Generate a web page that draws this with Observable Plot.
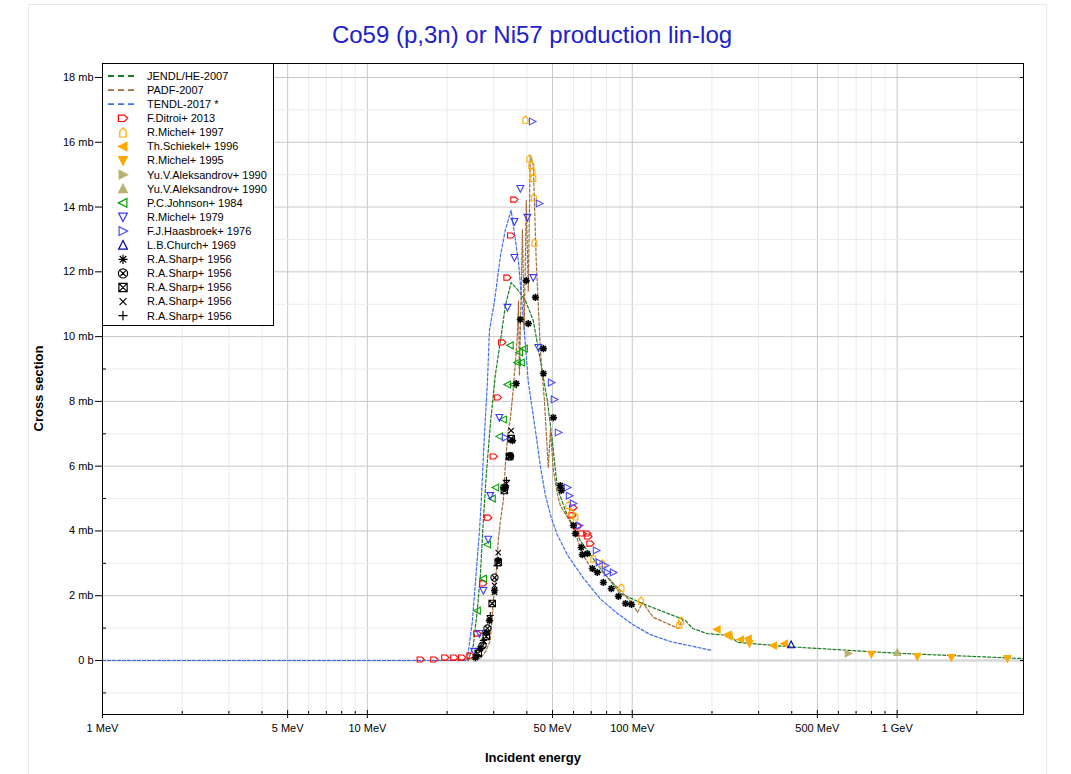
<!DOCTYPE html>
<html><head><meta charset="utf-8">
<script src="https://cdn.jsdelivr.net/npm/d3@7"></script>
<script src="https://cdn.jsdelivr.net/npm/@observablehq/plot@0.6"></script>
<style>
body{margin:0;background:#fff;font-family:"Liberation Sans",Arial,sans-serif;}
#wrap{position:relative;width:1071px;height:774px;overflow:hidden;}
#border{position:absolute;left:28px;top:4px;width:1017px;height:800px;border:1px solid #e8e8e8;}
#title{position:absolute;left:0;width:1064px;top:21px;text-align:center;font-size:24px;color:#2020cc;}
#xlabel{position:absolute;left:0;width:1066px;top:750px;text-align:center;font-size:13px;font-weight:bold;}
#ylabel{position:absolute;left:-22px;top:381px;width:120px;text-align:center;font-size:13px;font-weight:bold;transform:rotate(-90deg);}
#chart{position:absolute;left:0;top:0;}
#legend{position:absolute;left:102px;top:63px;}
</style></head>
<body><div id="wrap"><div id="border"></div><div id="chart"></div><div id="legend"></div>
<div id="title">Co59 (p,3n) or Ni57 production lin-log</div>
<div id="xlabel">Incident energy</div><div id="ylabel">Cross section</div></div>
<script>
// ---------- data (E in MeV, sigma in mb) ----------
const jendl = [[1,0],[24.0,0],[25.1,0.46],[26.0,1.54],[26.7,2.62],[27.4,4.32],[28.1,5.71],[29.1,7.26],[30.4,8.8],[31.8,9.88],[33.2,10.96],[34.9,11.67],[37.2,11.42],[39.5,11.11],[42.3,10.5],[45.0,9.26],[47.8,8.03],[49.9,6.79],[52.1,5.34],[55.9,4.63],[63.7,3.70],[75.8,2.84],[90.2,2.07],[109,1.76],[149,1.33],[159,1.23],[169,0.99],[192,0.83],[235,0.77],[249,0.56],[385,0.43],[666,0.31],[1029,0.22],[3000,0.06]];
const padf = [[20,0],[26.7,0.06],[28.1,0.31],[29.1,0.62],[29.9,1.85],[30.4,2.38],[30.9,3.09],[31.2,3.70],[31.8,4.32],[32.6,4.94],[33.2,6.08],[34.0,7.10],[34.6,7.41],[35.3,8.12],[36.2,9.17],[36.8,9.97],[37.2,11.1],[37.5,8.8],[38.5,13.3],[39.1,10.2],[39.8,14.2],[40.5,11.4],[41.2,15.6],[42.3,15.3],[43.4,12.35],[45.0,9.57],[46.6,8.03],[48.2,5.96],[49.1,7.1],[50.4,5.87],[52.1,5.16],[53.5,4.79],[56.4,4.48],[59.9,4.11],[64.8,3.30],[70.7,2.78],[77.8,2.72],[84.9,2.38],[91.8,2.10],[100.2,1.76],[104.6,1.48],[109.3,1.79],[120.2,1.33],[149.4,0.99],[154.7,1.23]];
const tendl = [[1,0],[23.8,0],[24.9,1.2],[25.8,2.8],[26.5,4.0],[26.9,4.9],[27.6,6.8],[28.4,8.6],[28.9,10.2],[30.2,11.1],[31.8,12.5],[33.2,13.3],[34.9,13.9],[37.2,12.3],[39.1,10.2],[40.5,8.6],[43.1,7.1],[45.0,6.0],[47.0,5.1],[49.5,4.4],[52.0,3.9],[57.0,3.25],[65.3,2.55],[75.8,1.9],[88,1.45],[101,1.1],[117,0.8],[140,0.58],[200,0.31]];

const ditroi2013 = [[15.9,0.03],[17.9,0.03],[19.7,0.09],[21.3,0.09],[22.8,0.09],[24.5,0.15],[26.0,0.83],[27.4,2.38],[28.6,4.41],[30.0,6.3],[31.1,8.12],[32.3,9.82],[33.8,11.82],[34.9,13.12],[35.9,14.23],[59.9,4.72],[59.4,4.48],[62.3,4.14],[64.8,3.92],[67.7,3.92],[68.3,3.83],[69.5,3.61]];
const michel1997 = [[39.5,16.7],[40.9,15.5],[41.6,15.3],[42.0,15.1],[42.3,14.9],[42.5,14.3],[42.7,12.9],[57.4,4.8],[58.9,4.55],[61.0,4.45],[71.3,3.15],[77.1,3.0],[91,2.25],[108,1.85],[153,1.23],[150.5,1.11]];
const schiekel1996 = [[209,0.96],[230,0.80],[232,0.74],[256,0.65],[274,0.68],[341,0.46],[375,0.52]];
const michel1995 = [[277,0.52],[799,0.19],[1192,0.12],[1602,0.09],[2608,0.06]];
const aleks1990a = [[654,0.22]];
const aleks1990b = [[1002,0.25]];
const johnson1984 = [[34.6,9.73],[37.5,9.51],[39.1,9.63],[36.8,9.2],[38.1,9.2],[33.8,8.52],[35.6,8.52],[32.6,7.44],[31.5,6.92],[30.5,5.34],[29.6,5.0],[28.4,3.58],[27.4,2.53],[26.0,1.54]];
const michel1979 = [[37.8,14.57],[35.9,13.55],[40.2,13.68],[35.9,12.44],[42.3,11.82],[33.8,10.9],[44.2,9.66],[31.5,7.5],[29.1,5.09],[28.6,3.74],[27.4,2.16],[26.5,0.83],[25.3,0.28]];
const haasbroek1976 = [[42.0,16.64],[44.6,14.11],[33.2,6.88],[49.5,8.58],[50.8,8.06],[52.6,7.04],[56.9,5.34],[57.9,5.09],[59.9,4.85],[63.1,4.17],[73.2,3.40],[75.1,3.03],[79.1,2.93],[80.5,2.72],[84.9,2.72]];
const church1969 = [[398,0.49]];
const sharpStar = [[25.6,0.09],[26.7,0.37],[28.1,0.86],[28.9,1.23],[30.2,2.16],[31.2,3.09],[33.2,5.34],[34.6,6.33],[35.3,6.79],[36.5,8.55],[37.8,10.53],[39.8,11.73],[40.5,10.4],[43.1,11.21],[46.2,9.63],[46.2,8.86],[50.4,7.5],[53.5,5.4],[54.0,5.25],[59.9,4.17],[61.0,3.92],[64.2,3.49],[64.8,3.27],[67.7,3.30],[70.7,2.84],[73.8,2.72],[77.8,2.41],[83.4,2.22],[88.7,1.98],[94.3,1.76],[99.3,1.73]];
const sharpCircX = [[27.2,0.46],[28.4,0.99],[30.2,2.56],[32.9,5.34],[34.6,6.3]];
const sharpSqX = [[26.2,0.22],[28.1,0.74],[29.6,1.76],[31.2,3.03],[32.9,5.25],[34.4,6.3],[34.9,6.85]];
const sharpX = [[27.6,0.59],[28.9,1.3],[30.2,2.32],[30.2,2.1],[31.2,3.33],[33.5,5.46],[34.9,7.1]];
const sharpPlus = [[25.8,0.15],[27.4,0.62],[29.1,1.39],[30.9,2.93],[33.5,5.56]];

// ---------- axis ticks ----------
const xMajor = [1,5,10,50,100,500,1000];
const xMinor = [2,3,4,6,7,8,9,20,30,40,60,70,80,90,200,300,400,600,700,800,900,2000,3000];
const yMajor = [0,2,4,6,8,10,12,14,16,18];
const yMinor = [-1,1,3,5,7,9,11,13,15,17];

// ---------- custom symbols ----------
function poly(pts){return {draw(ctx,size){const r=Math.sqrt(size/Math.PI);pts.forEach(([a,b],i)=>i?ctx.lineTo(a*r,b*r):ctx.moveTo(a*r,b*r));ctx.closePath();}};}
const houseRight = poly([[-1,-0.7],[0.3,-0.7],[1,0],[0.3,0.7],[-1,0.7]]);
const houseUp = poly([[-0.7,1],[-0.7,-0.3],[0,-1],[0.7,-0.3],[0.7,1]]);
const triL = poly([[-1,0],[0.85,-0.95],[0.85,0.95]]);
const triR = poly([[1,0],[-0.85,-0.95],[-0.85,0.95]]);
const triU = poly([[0,-1],[0.95,0.85],[-0.95,0.85]]);
const triD = poly([[0,1],[0.95,-0.85],[-0.95,-0.85]]);
const star8 = {draw(ctx,size){const r=Math.sqrt(size/Math.PI);for(const a of [0,45,90,135]){const c=Math.cos(a*Math.PI/180)*r,s=Math.sin(a*Math.PI/180)*r;ctx.moveTo(c,s);ctx.lineTo(-c,-s);}}};
const circX = {draw(ctx,size){const r=Math.sqrt(size/Math.PI);ctx.moveTo(r,0);ctx.arc(0,0,r,0,2*Math.PI);const k=r*0.707;ctx.moveTo(-k,-k);ctx.lineTo(k,k);ctx.moveTo(-k,k);ctx.lineTo(k,-k);}};
const sqX = {draw(ctx,size){const r=Math.sqrt(size/Math.PI)*0.9;ctx.moveTo(-r,-r);ctx.lineTo(r,-r);ctx.lineTo(r,r);ctx.lineTo(-r,r);ctx.closePath();ctx.moveTo(-r,-r);ctx.lineTo(r,r);ctx.moveTo(-r,r);ctx.lineTo(r,-r);}};
const timesS = {draw(ctx,size){const r=Math.sqrt(size/Math.PI)*0.75;ctx.moveTo(-r,-r);ctx.lineTo(r,r);ctx.moveTo(-r,r);ctx.lineTo(r,-r);}};
const plusS = {draw(ctx,size){const r=Math.sqrt(size/Math.PI);ctx.moveTo(-r,0);ctx.lineTo(r,0);ctx.moveTo(0,-r);ctx.lineTo(0,r);}};

const lineSeries = [
  {name:"JENDL/HE-2007", data:jendl, color:"#1a7d1f"},
  {name:"PADF-2007", data:padf, color:"#a06c3a"},
  {name:"TENDL-2017 *", data:tendl, color:"#3f6ff0"}
];
const pointSeries = [
  {name:"F.Ditroi+ 2013", data:ditroi2013, sym:houseRight, stroke:"#ff0000", fill:"none", sw:1.1},
  {name:"R.Michel+ 1997", data:michel1997, sym:houseUp, stroke:"#ffaa00", fill:"none", sw:1.1},
  {name:"Th.Schiekel+ 1996", data:schiekel1996, sym:triL, stroke:"#ffaa00", fill:"#ffaa00", sw:1.1},
  {name:"R.Michel+ 1995", data:michel1995, sym:triD, stroke:"#ffaa00", fill:"#ffaa00", sw:1.1},
  {name:"Yu.V.Aleksandrov+ 1990", data:aleks1990a, sym:triR, stroke:"#b8b271", fill:"#b8b271", sw:1.1},
  {name:"Yu.V.Aleksandrov+ 1990", data:aleks1990b, sym:triU, stroke:"#b8b271", fill:"#b8b271", sw:1.1},
  {name:"P.C.Johnson+ 1984", data:johnson1984, sym:triL, stroke:"#00a000", fill:"none", sw:1.1},
  {name:"R.Michel+ 1979", data:michel1979, sym:triD, stroke:"#3a3aff", fill:"none", sw:1.1},
  {name:"F.J.Haasbroek+ 1976", data:haasbroek1976, sym:triR, stroke:"#4c4cff", fill:"none", sw:1.1},
  {name:"L.B.Church+ 1969", data:church1969, sym:triU, stroke:"#0000b0", fill:"none", sw:1.1},
  {name:"R.A.Sharp+ 1956", data:sharpStar, sym:star8, stroke:"#000", fill:"none", sw:1.6},
  {name:"R.A.Sharp+ 1956", data:sharpCircX, sym:circX, stroke:"#000", fill:"none", sw:1.1},
  {name:"R.A.Sharp+ 1956", data:sharpSqX, sym:sqX, stroke:"#000", fill:"none", sw:1.1},
  {name:"R.A.Sharp+ 1956", data:sharpX, sym:timesS, stroke:"#000", fill:"none", sw:1.1},
  {name:"R.A.Sharp+ 1956", data:sharpPlus, sym:plusS, stroke:"#000", fill:"none", sw:1.1}
];

const fmtX = d => d >= 1000 ? (d/1000) + " GeV" : d + " MeV";
const fmtY = d => d === 0 ? "0 b" : d + " mb";

const marks = [
  Plot.gridX(xMinor, {stroke:"#ebebeb", strokeOpacity:1}),
  Plot.gridX(xMajor, {stroke:"#c8c8c8", strokeOpacity:1}),
  Plot.gridY(yMinor, {stroke:"#ebebeb", strokeOpacity:1}),
  Plot.gridY(yMajor.filter(d=>d!==0), {stroke:"#c8c8c8", strokeOpacity:1}),
  Plot.ruleY([0], {stroke:"#d9d9d9", strokeWidth:2.5}),
  ...lineSeries.map(s => Plot.line(s.data, {x:d=>d[0], y:d=>d[1], stroke:s.color, strokeWidth:1.2, strokeDasharray:"3,2", clip:true})),
  ...pointSeries.map(s => Plot.dot(s.data, {x:d=>d[0], y:d=>d[1], symbol:s.sym, r:3.6, stroke:s.stroke, fill:s.fill, strokeWidth:s.sw})),
  Plot.frame({stroke:"#000"}),
  Plot.axisX(xMajor, {tickSize:8, dy:-4, fill:"none", label:null}),
  Plot.text(xMajor, {x:d=>d, text:fmtX, frameAnchor:"bottom", lineAnchor:"top", dy:10, fontSize:11, fill:"#000"}),
  Plot.axisX(xMinor, {tickSize:3, dy:-3, fill:"none", label:null}),
  Plot.axisY(yMajor, {tickSize:7, tickPadding:2, tickFormat:fmtY, label:null, fontSize:11}),
  Plot.axisY(yMinor, {tickSize:4, dx:4, fill:"none", label:null}),
  Plot.axisY(yMajor, {anchor:"right", tickSize:4, dx:-4, fill:"none", label:null})
];

const chart = Plot.plot({
  width:1071, height:774,
  marginLeft:102, marginRight:48, marginTop:63, marginBottom:60,
  style:{fontFamily:"'Liberation Sans', Arial, sans-serif", fontSize:"11px", background:"transparent"},
  x:{type:"log", domain:[1,3000]},
  y:{domain:[-1.667,18.432]},
  marks
});
document.getElementById("chart").appendChild(chart);

// ---------- legend ----------
const lg = d3.select("#legend").append("svg").attr("width",173).attr("height",264)
  .style("font-family","'Liberation Sans', Arial, sans-serif").style("font-size","11px");
lg.append("rect").attr("x",0.5).attr("y",0.5).attr("width",171).attr("height",262).attr("fill","#fff").attr("stroke","#000");
const entries = [...lineSeries.map(s=>({...s,kind:"line"})), ...pointSeries.map(s=>({...s,kind:"pt"}))];
entries.forEach((e,i)=>{
  const y = 13 + i*14.1;
  if (e.kind==="line") {
    lg.append("line").attr("x1",6).attr("x2",34).attr("y1",y).attr("y2",y).attr("stroke",e.color).attr("stroke-width",1.8).attr("stroke-dasharray","6,4");
  } else {
    lg.append("path").attr("transform",`translate(21,${y})`).attr("d",d3.symbol(e.sym, Math.PI*4.6*4.6)())
      .attr("stroke",e.stroke).attr("fill",e.fill).attr("stroke-width",1.2);
  }
  lg.append("text").attr("x",45).attr("y",y).attr("dy","0.35em").text(e.name);
});
</script></body></html>
